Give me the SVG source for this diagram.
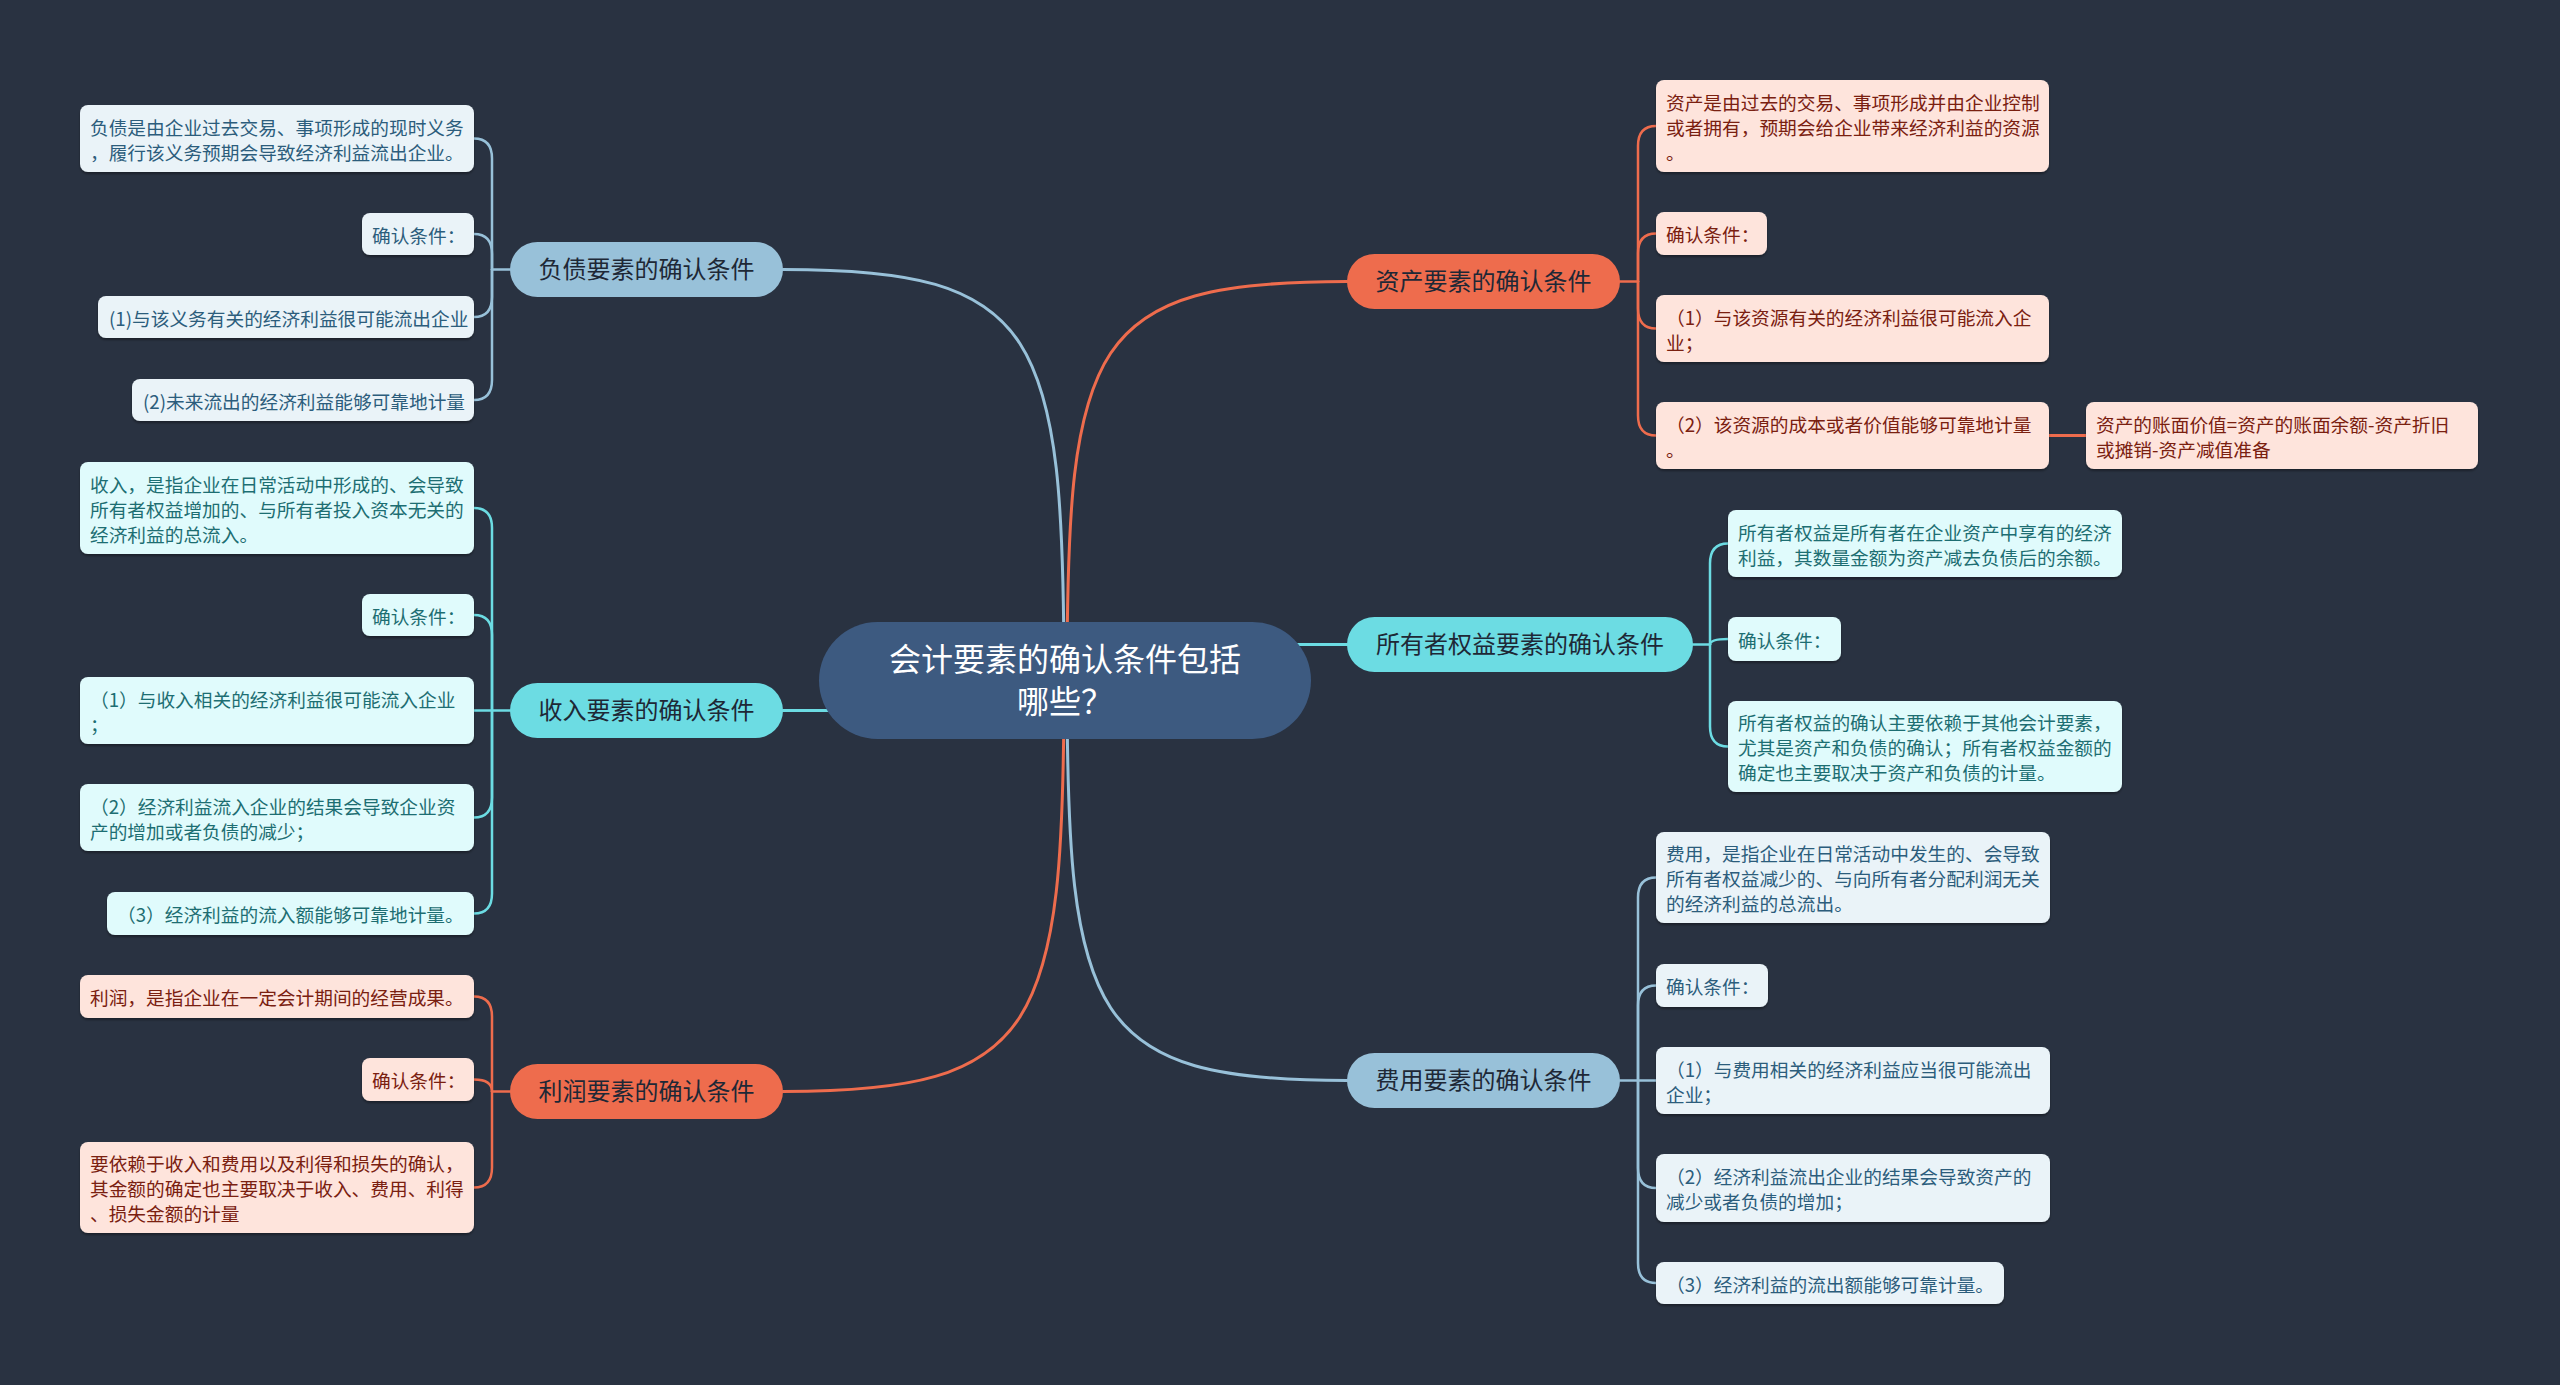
<svg xmlns="http://www.w3.org/2000/svg" width="2560" height="1385" viewBox="0 0 2560 1385">
<defs>
<filter id="sh" x="-5%" y="-10%" width="110%" height="130%">
<feDropShadow dx="0" dy="2" stdDeviation="1.2" flood-color="#000" flood-opacity="0.35"/>
</filter>
<style>
text{font-family:"Noto Sans CJK SC","Noto Sans",sans-serif;dominant-baseline:central}
.root rect{fill:#3d5a80}
.root text{fill:#ffffff;font-size:32px;text-anchor:middle}
.br text{font-size:24px;text-anchor:middle;fill:#1e2836}
.b-blue rect{fill:#98c1d9}
.b-cyan rect{fill:#6cdce3}
.b-orange rect{fill:#ee6c4d}
.lf rect{filter:url(#sh)}
.lf text{font-size:18.7px}
.l-blue rect{fill:#eaf3f8}
.l-blue text{fill:#2c5d7c}
.l-cyan rect{fill:#e0fbfc}
.l-cyan text{fill:#1d6e72}
.l-orange rect{fill:#fee4dc}
.l-orange text{fill:#7a2010}
.c{fill:none;stroke-width:3;stroke-linecap:round}
.cb{stroke:#98c1d9}
.cc{stroke:#6cdce3}
.co{stroke:#ee6c4d}
.lc{stroke-width:2.5}
</style>
</defs>
<rect width="2560" height="1385" fill="#293241"/>

<g id="connectors">
<path class="c cb" d="M 783 269.5 C 1040 269.5 1064 330 1064 680"/>
<path class="c co" d="M 1347 281.5 C 1090 281.5 1067 340 1067 680"/>
<path class="c co" d="M 783 1091.5 C 1040 1091.5 1064 1030 1064 680"/>
<path class="c cb" d="M 1347 1080.5 C 1090 1080.5 1067 1020 1067 680"/>
<path class="c cc" d="M 783 710.5 L 900 710.5"/>
<path class="c cc" d="M 1347 644.5 L 1250 644.5"/>
<path class="c cb lc" d="M 510 269.5 L 492 269.5"/>
<path class="c cb lc" d="M 492 269.5 L 492 158.5 Q 492 138.5 474 138.5"/>
<path class="c cb lc" d="M 492 269.5 L 492 254 Q 492 234 474 234"/>
<path class="c cb lc" d="M 492 269.5 L 492 297 Q 492 317 474 317"/>
<path class="c cb lc" d="M 492 269.5 L 492 380 Q 492 400 474 400"/>
<path class="c cc lc" d="M 510 710.5 L 492 710.5"/>
<path class="c cc lc" d="M 492 710.5 L 492 528 Q 492 508 474 508"/>
<path class="c cc lc" d="M 492 710.5 L 492 635 Q 492 615 474 615"/>
<path class="c cc lc" d="M 492 710.5 L 474 710.5"/>
<path class="c cc lc" d="M 492 710.5 L 492 797.5 Q 492 817.5 474 817.5"/>
<path class="c cc lc" d="M 492 710.5 L 492 893.5 Q 492 913.5 474 913.5"/>
<path class="c co lc" d="M 510 1091.5 L 492 1091.5"/>
<path class="c co lc" d="M 492 1091.5 L 492 1016.5 Q 492 996.5 474 996.5"/>
<path class="c co lc" d="M 492 1091.5 Q 492 1079.5 474 1079.5"/>
<path class="c co lc" d="M 492 1091.5 L 492 1167.5 Q 492 1187.5 474 1187.5"/>
<path class="c co lc" d="M 1620 281.5 L 1638 281.5"/>
<path class="c co lc" d="M 1638 281.5 L 1638 146 Q 1638 126 1656 126"/>
<path class="c co lc" d="M 1638 281.5 L 1638 253.5 Q 1638 233.5 1656 233.5"/>
<path class="c co lc" d="M 1638 281.5 L 1638 308.5 Q 1638 328.5 1656 328.5"/>
<path class="c co lc" d="M 1638 281.5 L 1638 415.5 Q 1638 435.5 1656 435.5"/>
<path class="c co" stroke-width="4" d="M 2049 435.5 L 2086 435.5"/>
<path class="c cc lc" d="M 1693 644.5 L 1710 644.5"/>
<path class="c cc lc" d="M 1710 644.5 L 1710 563.5 Q 1710 543.5 1728 543.5"/>
<path class="c cc lc" d="M 1710 644.5 Q 1710 639 1728 639"/>
<path class="c cc lc" d="M 1710 644.5 L 1710 726.5 Q 1710 746.5 1728 746.5"/>
<path class="c cb lc" d="M 1620 1080.5 L 1638 1080.5"/>
<path class="c cb lc" d="M 1638 1080.5 L 1638 897.5 Q 1638 877.5 1656 877.5"/>
<path class="c cb lc" d="M 1638 1080.5 L 1638 1005.5 Q 1638 985.5 1656 985.5"/>
<path class="c cb lc" d="M 1638 1080.5 L 1656 1080.5"/>
<path class="c cb lc" d="M 1638 1080.5 L 1638 1168 Q 1638 1188 1656 1188"/>
<path class="c cb lc" d="M 1638 1080.5 L 1638 1263 Q 1638 1283 1656 1283"/>
</g>

<g id="root" class="root">
<rect x="819" y="622" width="492" height="117" rx="58.5"/>
<text x="1065" y="657">会计要素的确认条件包括</text>
<text x="1065" y="699">哪些？</text>
</g>

<g id="b-fuzhai" class="br b-blue"><rect x="510" y="242" width="273" height="55" rx="27.5"/><text x="646.5" y="267.5">负债要素的确认条件</text></g>
<g id="b-shouru" class="br b-cyan"><rect x="510" y="683" width="273" height="55" rx="27.5"/><text x="646.5" y="708.5">收入要素的确认条件</text></g>
<g id="b-lirun" class="br b-orange"><rect x="510" y="1064" width="273" height="55" rx="27.5"/><text x="646.5" y="1089.5">利润要素的确认条件</text></g>
<g id="b-zichan" class="br b-orange"><rect x="1347" y="254" width="273" height="55" rx="27.5"/><text x="1483.5" y="279.5">资产要素的确认条件</text></g>
<g id="b-quanyi" class="br b-cyan"><rect x="1347" y="617" width="346" height="55" rx="27.5"/><text x="1520" y="642.5">所有者权益要素的确认条件</text></g>
<g id="b-feiyong" class="br b-blue"><rect x="1347" y="1053" width="273" height="55" rx="27.5"/><text x="1483.5" y="1078.5">费用要素的确认条件</text></g>

<g id="l1" class="lf l-blue"><rect x="80" y="105" width="394" height="67" rx="8"/><text x="90" y="126">负债是由企业过去交易、事项形成的现时义务</text><text x="90" y="151">，履行该义务预期会导致经济利益流出企业。</text></g>
<g id="l2" class="lf l-blue"><rect x="362" y="213" width="112" height="42" rx="8"/><text x="372" y="234">确认条件：</text></g>
<g id="l3" class="lf l-blue"><rect x="98" y="296" width="376" height="42" rx="8"/><text x="109" y="317">(1)与该义务有关的经济利益很可能流出企业</text></g>
<g id="l4" class="lf l-blue"><rect x="132" y="379" width="342" height="42" rx="8"/><text x="143" y="400">(2)未来流出的经济利益能够可靠地计量</text></g>

<g id="i1" class="lf l-cyan"><rect x="80" y="462" width="394" height="92" rx="8"/><text x="90" y="483">收入，是指企业在日常活动中形成的、会导致</text><text x="90" y="508">所有者权益增加的、与所有者投入资本无关的</text><text x="90" y="533">经济利益的总流入。</text></g>
<g id="i2" class="lf l-cyan"><rect x="362" y="594" width="112" height="42" rx="8"/><text x="372" y="615">确认条件：</text></g>
<g id="i3" class="lf l-cyan"><rect x="80" y="677" width="394" height="67" rx="8"/><text x="90" y="698">（1）与收入相关的经济利益很可能流入企业</text><text x="90" y="723">；</text></g>
<g id="i4" class="lf l-cyan"><rect x="80" y="784" width="394" height="67" rx="8"/><text x="90" y="805">（2）经济利益流入企业的结果会导致企业资</text><text x="90" y="830">产的增加或者负债的减少；</text></g>
<g id="i5" class="lf l-cyan"><rect x="107" y="892" width="367" height="43" rx="8"/><text x="117" y="913.5">（3）经济利益的流入额能够可靠地计量。</text></g>

<g id="p1" class="lf l-orange"><rect x="80" y="975" width="394" height="43" rx="8"/><text x="90" y="996.5">利润，是指企业在一定会计期间的经营成果。</text></g>
<g id="p2" class="lf l-orange"><rect x="362" y="1058" width="112" height="43" rx="8"/><text x="372" y="1079.5">确认条件：</text></g>
<g id="p3" class="lf l-orange"><rect x="80" y="1142" width="394" height="91" rx="8"/><text x="90" y="1162.5">要依赖于收入和费用以及利得和损失的确认，</text><text x="90" y="1187.5">其金额的确定也主要取决于收入、费用、利得</text><text x="90" y="1212.5">、损失金额的计量</text></g>

<g id="a1" class="lf l-orange"><rect x="1656" y="80" width="393" height="92" rx="8"/><text x="1666" y="101">资产是由过去的交易、事项形成并由企业控制</text><text x="1666" y="126">或者拥有，预期会给企业带来经济利益的资源</text><text x="1666" y="151">。</text></g>
<g id="a2" class="lf l-orange"><rect x="1656" y="212" width="111" height="43" rx="8"/><text x="1666" y="233.5">确认条件：</text></g>
<g id="a3" class="lf l-orange"><rect x="1656" y="295" width="393" height="67" rx="8"/><text x="1666" y="316">（1）与该资源有关的经济利益很可能流入企</text><text x="1666" y="341">业；</text></g>
<g id="a4" class="lf l-orange"><rect x="1656" y="402" width="393" height="67" rx="8"/><text x="1666" y="423">（2）该资源的成本或者价值能够可靠地计量</text><text x="1666" y="448">。</text></g>
<g id="a5" class="lf l-orange"><rect x="2086" y="402" width="392" height="67" rx="8"/><text x="2096" y="423">资产的账面价值=资产的账面余额-资产折旧</text><text x="2096" y="448">或摊销-资产减值准备</text></g>

<g id="o1" class="lf l-cyan"><rect x="1728" y="510" width="394" height="67" rx="8"/><text x="1738" y="531">所有者权益是所有者在企业资产中享有的经济</text><text x="1738" y="556">利益，其数量金额为资产减去负债后的余额。</text></g>
<g id="o2" class="lf l-cyan"><rect x="1728" y="617" width="113" height="44" rx="8"/><text x="1738" y="639">确认条件：</text></g>
<g id="o3" class="lf l-cyan"><rect x="1728" y="701" width="394" height="91" rx="8"/><text x="1738" y="721.5">所有者权益的确认主要依赖于其他会计要素，</text><text x="1738" y="746.5">尤其是资产和负债的确认；所有者权益金额的</text><text x="1738" y="771.5">确定也主要取决于资产和负债的计量。</text></g>

<g id="e1" class="lf l-blue"><rect x="1656" y="832" width="394" height="91" rx="8"/><text x="1666" y="852.5">费用，是指企业在日常活动中发生的、会导致</text><text x="1666" y="877.5">所有者权益减少的、与向所有者分配利润无关</text><text x="1666" y="902.5">的经济利益的总流出。</text></g>
<g id="e2" class="lf l-blue"><rect x="1656" y="964" width="112" height="43" rx="8"/><text x="1666" y="985.5">确认条件：</text></g>
<g id="e3" class="lf l-blue"><rect x="1656" y="1047" width="394" height="67" rx="8"/><text x="1666" y="1068">（1）与费用相关的经济利益应当很可能流出</text><text x="1666" y="1093">企业；</text></g>
<g id="e4" class="lf l-blue"><rect x="1656" y="1154" width="394" height="68" rx="8"/><text x="1666" y="1175.5">（2）经济利益流出企业的结果会导致资产的</text><text x="1666" y="1200.5">减少或者负债的增加；</text></g>
<g id="e5" class="lf l-blue"><rect x="1656" y="1262" width="348" height="42" rx="8"/><text x="1666" y="1283">（3）经济利益的流出额能够可靠计量。</text></g>
</svg>
